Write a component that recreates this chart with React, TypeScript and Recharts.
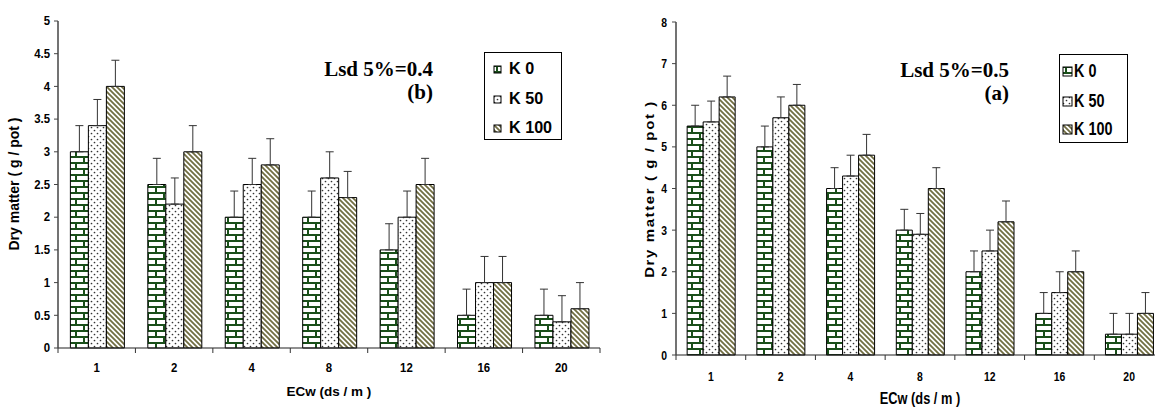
import React from 'react';
import { BarChart, Bar, XAxis, YAxis, ErrorBar } from 'recharts';

const categories = ['1', '2', '4', '8', '12', '16', '20'];
const seriesNames = ['K 0', 'K 50', 'K 100'];

// (b) panel
const k0B = [3.0, 2.5, 2.0, 2.0, 1.5, 0.5, 0.5];
const k50B = [3.4, 2.2, 2.5, 2.6, 2.0, 1.0, 0.4];
const k100B = [4.0, 3.0, 2.8, 2.3, 2.5, 1.0, 0.6];
const errB = 0.4;
const ticksB = [0, 0.5, 1, 1.5, 2, 2.5, 3, 3.5, 4, 4.5, 5];

// (a) panel
const k0A = [5.5, 5.0, 4.0, 3.0, 2.0, 1.0, 0.5];
const k50A = [5.6, 5.7, 4.3, 2.9, 2.5, 1.5, 0.5];
const k100A = [6.2, 6.0, 4.8, 4.0, 3.2, 2.0, 1.0];
const errA = 0.5;
const ticksA = [0, 1, 2, 3, 4, 5, 6, 7, 8];

const buildRows = (a: number[], b: number[], c: number[], err: number) =>
  categories.map((cat, i) => ({
    cat,
    k0: a[i],
    k50: b[i],
    k100: c[i],
    k0e: [0, err],
    k50e: [0, err],
    k100e: [0, err],
  }));

const dataB = buildRows(k0B, k50B, k100B, errB);
const dataA = buildRows(k0A, k50A, k100A, errA);

const FILLS = ['url(#brick)', 'url(#dots)', 'url(#stripes)'];
const KEYS = ['k0', 'k50', 'k100'];

const SANS = '"Liberation Sans", Arial, sans-serif';
const SERIF = '"Liberation Serif", "Times New Roman", serif';

const Patterns = () => (
  <svg width={0} height={0} style={{ position: 'absolute' }}>
    <defs>
      <pattern id="brick" width={16} height={12} patternUnits="userSpaceOnUse">
        <rect width={16} height={12} fill="#fff" />
        <path d="M0,1 H16 M0,7 H16 M4,0 V7 M12,7 V12" stroke="#1a4f1a" strokeWidth={2} />
      </pattern>
      <pattern id="dots" width={6} height={6} patternUnits="userSpaceOnUse">
        <rect width={6} height={6} fill="#fff" />
        <circle cx={1.5} cy={1.5} r={0.85} fill="#333" />
        <circle cx={4.5} cy={4.5} r={0.85} fill="#333" />
      </pattern>
      <pattern id="stripes" width={5} height={5} patternUnits="userSpaceOnUse">
        <rect width={5} height={5} fill="#fff" />
        <path d="M0,0 L5,5 M-1,4 L1,6 M4,-1 L6,1" stroke="#716e42" strokeWidth={1.8} />
      </pattern>
    </defs>
  </svg>
);

const makeXTick = (dy: number, size: number, sx: number) => (props: any) => {
  const { x, y, payload, index } = props;
  const off = payload.offset ?? 0;
  return (
    <g>
      <line x1={x - off} x2={x - off} y1={y} y2={y + 5} stroke="#333" />
      {index === categories.length - 1 && (
        <line x1={x + off} x2={x + off} y1={y} y2={y + 5} stroke="#333" />
      )}
      <text
        transform={`translate(${x},${y + dy}) scale(${sx},1)`}
        textAnchor="middle"
        fontFamily={SANS}
        fontWeight="bold"
        fontSize={size}
        fill="#000"
      >
        {payload.value}
      </text>
    </g>
  );
};

const makeYTick = (size: number, sx: number) => (props: any) => {
  const { x, y, payload } = props;
  return (
    <text
      transform={`translate(${x},${y}) scale(${sx},1)`}
      dy="0.35em"
      textAnchor="end"
      fontFamily={SANS}
      fontWeight="bold"
      fontSize={size}
      fill="#000"
    >
      {payload.value}
    </text>
  );
};

type PanelProps = {
  data: any[];
  ticks: number[];
  max: number;
  width: number;
  margin: any;
  yWidth: number;
  tickMargin: number;
  tickSize: number;
  sx: number;
  xDy: number;
};

const Panel = ({ data, ticks, max, width, margin, yWidth, tickMargin, tickSize, sx, xDy }: PanelProps) => (
  <BarChart width={width} height={407} data={data} margin={margin} barCategoryGap="16%" barGap={0}>
    <XAxis
      dataKey="cat"
      axisLine={{ stroke: '#222', strokeWidth: 1.2 }}
      tickLine={false}
      tickSize={0}
      tickMargin={0}
      height={40}
      interval={0}
      tick={makeXTick(xDy, tickSize, sx)}
    />
    <YAxis
      domain={[0, max]}
      ticks={ticks}
      interval={0}
      width={yWidth}
      tickSize={4}
      tickMargin={tickMargin}
      axisLine={{ stroke: '#444', strokeWidth: 1.5 }}
      tickLine={{ stroke: '#444' }}
      tick={makeYTick(tickSize, sx)}
    />
    <YAxis
      yAxisId="r"
      orientation="right"
      domain={[0, max]}
      width={0}
      tick={false}
      tickLine={false}
      axisLine={{ stroke: '#999' }}
    />
    <XAxis xAxisId="t" dataKey="cat" orientation="top" height={0} tick={false} tickLine={false} axisLine={{ stroke: '#999' }} />
    {KEYS.map((k, i) => (
      <Bar key={k} dataKey={k} fill={FILLS[i]} stroke="#000" strokeWidth={1} isAnimationActive={false}>
        <ErrorBar dataKey={`${k}e`} width={4} stroke="#333" strokeWidth={1} direction="y" />
      </Bar>
    ))}
  </BarChart>
);

const LegendBox = ({ left, top, w, h, size, sx, iconSize, iconLeft, textLeft, rows }: any) => (
  <div
    style={{
      position: 'absolute',
      left,
      top,
      width: w,
      height: h,
      border: '1px solid #000',
      boxSizing: 'border-box',
      background: '#fff',
    }}
  >
    {seriesNames.map((name, i) => (
      <div key={name} style={{ position: 'absolute', left: 0, top: rows[i] - top - 12, height: 24 }}>
        <svg
          width={iconSize + 2}
          height={iconSize + 2}
          style={{ position: 'absolute', left: iconLeft, top: 12 - iconSize / 2 - 1 }}
        >
          <rect x={1} y={1} width={iconSize} height={iconSize} fill={FILLS[i]} stroke="#000" strokeWidth={1} />
        </svg>
        <span
          style={{
            position: 'absolute',
            left: textLeft,
            top: 0,
            fontFamily: SANS,
            fontWeight: 'bold',
            fontSize: size,
            whiteSpace: 'nowrap',
            lineHeight: '24px',
            transform: `scaleX(${sx})`,
            transformOrigin: 'left center',
          }}
        >
          {name}
        </span>
      </div>
    ))}
  </div>
);

const Lsd = ({ right, top, value, tag }: any) => (
  <div
    style={{
      position: 'absolute',
      left: right - 140,
      width: 140,
      top,
      textAlign: 'right',
      fontFamily: SERIF,
      fontWeight: 'bold',
      fontSize: 21,
      lineHeight: '23px',
    }}
  >
    <div>{value}</div>
    <div>{tag}</div>
  </div>
);

const yTitle = (cx: number, cy: number, size: number, spacing: number, sx: number) => ({
  position: 'absolute' as const,
  left: cx - 100,
  top: cy - 10,
  width: 200,
  height: 20,
  textAlign: 'center' as const,
  transform: `rotate(-90deg) scaleY(${sx})`,
  fontFamily: SANS,
  fontWeight: 'bold' as const,
  fontSize: size,
  letterSpacing: spacing,
  lineHeight: '20px',
});

export default function App() {
  return (
    <div style={{ position: 'absolute', left: 0, top: 0, width: 1155, height: 407, overflow: 'hidden', background: '#fff' }}>
      <Patterns />
      <div style={{ position: 'absolute', left: 0, top: 0 }}>
        <Panel
          data={dataB}
          ticks={ticksB}
          max={5}
          width={610}
          margin={{ top: 21, right: 10, left: 0, bottom: 19 }}
          yWidth={58}
          tickMargin={4}
          tickSize={12}
          sx={0.95}
          xDy={24}
        />
      </div>
      <div style={{ position: 'absolute', left: 600, top: 0 }}>
        <Panel
          data={dataA}
          ticks={ticksA}
          max={8}
          width={570}
          margin={{ top: 22, right: 6, left: 0, bottom: 12 }}
          yWidth={76}
          tickMargin={5}
          tickSize={13}
          sx={0.8}
          xDy={26}
        />
      </div>

      {/* axis titles */}
      <div style={yTitle(14, 184, 14, 0, 1)}>Dry matter ( g / pot )</div>
      <div style={yTitle(650, 189, 15, 1.6, 0.8)}>Dry matter ( g / pot )</div>
      <div
        style={{
          position: 'absolute',
          left: 329 - 100,
          top: 383,
          width: 200,
          textAlign: 'center',
          fontFamily: SANS,
          fontWeight: 'bold',
          fontSize: 13.5,
          lineHeight: '18px',
        }}
      >
        ECw (ds / m )
      </div>
      <div
        style={{
          position: 'absolute',
          left: 920 - 100,
          top: 390,
          width: 200,
          textAlign: 'center',
          fontFamily: SANS,
          fontWeight: 'bold',
          fontSize: 16,
          lineHeight: '18px',
          transform: 'scaleX(0.8)',
        }}
      >
        ECw (ds / m )
      </div>

      <Lsd right={433} top={58} value="Lsd 5%=0.4" tag="(b)" />
      <Lsd right={1009} top={59} value="Lsd 5%=0.5" tag="(a)" />

      <LegendBox left={484} top={52} w={78} h={88} size={17} sx={0.95} iconSize={7} iconLeft={8} textLeft={24} rows={[68, 98, 127]} />
      <LegendBox left={1059} top={54} w={69} h={89} size={18} sx={0.8} iconSize={9} iconLeft={2} textLeft={14} rows={[70, 100, 128]} />
    </div>
  );
}
